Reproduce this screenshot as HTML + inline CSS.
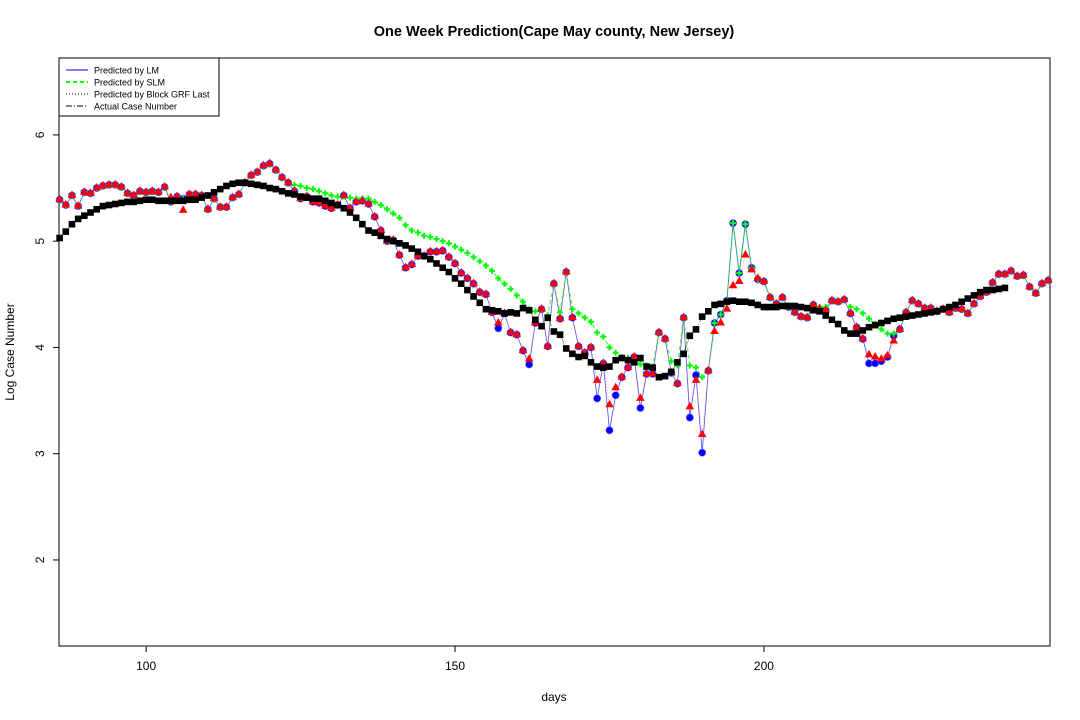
<!DOCTYPE html>
<html><head><meta charset="utf-8"><style>
body{margin:0;background:#fff}
svg{display:block;font-family:"Liberation Sans",sans-serif}
</style></head><body>
<svg id="chart" width="1080" height="720">
<text x="554" y="36" text-anchor="middle" font-size="14.5" font-weight="bold">One Week Prediction(Cape May county, New Jersey)</text>
<text x="554" y="701" text-anchor="middle" font-size="12">days</text>
<text transform="translate(14,352) rotate(-90)" text-anchor="middle" font-size="12">Log Case Number</text>
<g id="axes"></g>
<g id="marks"></g>
<g>
<rect x="59" y="58" width="160" height="58" fill="#fff" stroke="#000" stroke-width="1"/>
<line x1="66" y1="70" x2="88" y2="70" stroke="#00f"/>
<text x="94" y="73.5" font-size="9">Predicted by LM</text>
<line x1="66" y1="82" x2="88" y2="82" stroke="#0f0" stroke-width="2" stroke-dasharray="4,3"/>
<text x="94" y="85.5" font-size="9">Predicted by SLM</text>
<line x1="66" y1="94" x2="88" y2="94" stroke="#000" stroke-dasharray="1,2"/>
<text x="94" y="97.5" font-size="9">Predicted by Block GRF Last</text>
<line x1="66" y1="106" x2="88" y2="106" stroke="#000" stroke-dasharray="6,2,1,2"/>
<text x="94" y="109.5" font-size="9">Actual Case Number</text>
</g>
</svg>
<script>
const startDay = 86;
const actual = [5.03,5.09,5.16,5.21,5.24,5.27,5.30,5.33,5.34,5.35,5.36,5.37,5.37,5.38,5.39,5.39,5.38,5.38,5.38,5.38,5.38,5.39,5.39,5.41,5.43,5.46,5.49,5.52,5.54,5.55,5.55,5.54,5.53,5.52,5.50,5.49,5.47,5.45,5.44,5.42,5.41,5.40,5.40,5.38,5.36,5.34,5.31,5.27,5.22,5.16,5.10,5.08,5.05,5.02,5.00,4.98,4.96,4.93,4.90,4.86,4.83,4.79,4.75,4.71,4.65,4.60,4.54,4.48,4.42,4.36,4.35,4.34,4.32,4.33,4.32,4.37,4.35,4.26,4.20,4.28,4.15,4.12,3.99,3.94,3.91,3.92,3.86,3.82,3.81,3.82,3.88,3.90,3.88,3.86,3.90,3.82,3.81,3.72,3.73,3.77,3.86,3.94,4.11,4.17,4.29,4.34,4.40,4.41,4.43,4.44,4.43,4.43,4.42,4.40,4.38,4.38,4.38,4.39,4.39,4.39,4.38,4.37,4.35,4.34,4.30,4.26,4.22,4.16,4.13,4.13,4.16,4.19,4.21,4.23,4.25,4.27,4.28,4.29,4.30,4.31,4.32,4.33,4.34,4.36,4.38,4.40,4.43,4.46,4.49,4.52,4.54,4.54,4.55,4.56];
const lm = [5.39,5.34,5.43,5.33,5.46,5.45,5.50,5.52,5.53,5.53,5.51,5.45,5.43,5.47,5.46,5.47,5.46,5.51,5.37,5.42,5.40,5.44,5.44,5.43,5.30,5.40,5.32,5.32,5.41,5.44,5.55,5.62,5.65,5.71,5.73,5.67,5.60,5.55,5.47,5.40,5.42,5.37,5.36,5.33,5.31,5.34,5.43,5.31,5.37,5.38,5.35,5.23,5.10,5.00,5.01,4.87,4.75,4.78,4.86,4.86,4.90,4.90,4.91,4.85,4.79,4.70,4.65,4.60,4.52,4.50,4.33,4.18,4.32,4.14,4.12,3.97,3.84,4.23,4.36,4.01,4.60,4.27,4.71,4.28,4.01,3.95,4.00,3.52,3.85,3.22,3.55,3.72,3.81,3.91,3.43,3.75,3.75,4.14,4.08,3.76,3.66,4.28,3.34,3.74,3.01,3.78,4.23,4.31,4.44,5.17,4.70,5.16,4.75,4.64,4.62,4.47,4.41,4.47,4.38,4.33,4.29,4.28,4.40,4.36,4.35,4.44,4.43,4.45,4.32,4.19,4.08,3.85,3.85,3.87,3.91,4.11,4.17,4.33,4.44,4.41,4.37,4.37,4.34,4.36,4.33,4.37,4.36,4.32,4.41,4.48,4.52,4.61,4.69,4.69,4.72,4.67,4.68,4.57,4.51,4.60,4.63];
const grf = lm.slice();
const grfDays = [104,106,157,162,173,175,176,180,188,189,190,192,193,194,195,196,197,198,199,217,218,219,220,221];
const grfVals = [5.41,5.29,4.23,3.89,3.69,3.46,3.62,3.52,3.44,3.69,3.18,4.15,4.23,4.36,4.58,4.62,4.87,4.73,4.65,3.93,3.91,3.89,3.92,4.06];
grfDays.forEach((d,i)=>{grf[d-startDay]=grfVals[i];});
const slm = lm.slice();
const slmDays = [124,125,126,127,128,129,130,131,132,133,134,135,136,137,138,139,140,141,142,143,144,145,146,147,148,149,150,151,152,153,154,155,156,157,158,159,160,161,162,163,165,167,169,170,171,172,173,174,175,176,177,178,179,180,181,182,185,186,188,189,190,191,209,210,214,215,216,217,218,219,220,221];
const slmVals = [5.53,5.52,5.50,5.49,5.47,5.45,5.43,5.42,5.42,5.41,5.40,5.40,5.40,5.37,5.34,5.30,5.26,5.22,5.15,5.10,5.08,5.05,5.04,5.02,5.00,4.98,4.95,4.92,4.89,4.85,4.81,4.77,4.72,4.65,4.60,4.55,4.49,4.43,4.36,4.34,4.30,4.33,4.36,4.32,4.28,4.24,4.14,4.10,4.00,3.95,3.91,3.90,3.90,3.84,3.83,3.82,3.87,3.83,3.83,3.81,3.72,3.78,4.38,4.38,4.38,4.36,4.32,4.27,4.22,4.17,4.13,4.13];
slmDays.forEach((d,i)=>{slm[d-startDay]=slmVals[i];});
const xTicks = [100,150,200];
const yTicks = [2,3,4,5,6];

const L=59,R=1050,T=58,B=646;
const xMin=85.9,xMax=246.3,yMin=1.19,yMax=6.724;
const X=d=>L+(d-xMin)/(xMax-xMin)*(R-L);
const Y=v=>B-(v-yMin)/(yMax-yMin)*(B-T);
const NS="http://www.w3.org/2000/svg";
function mk(tag,attrs,parent){const e=document.createElementNS(NS,tag);for(const k in attrs)e.setAttribute(k,attrs[k]);parent.appendChild(e);return e;}
const axes=document.getElementById('axes'), marks=document.getElementById('marks');
const frame=mk('rect',{x:L,y:T,width:R-L,height:B-T,fill:'none',stroke:'#000'},axes);


xTicks.forEach(t=>{
  mk('line',{x1:X(t),x2:X(t),y1:B,y2:B+6,stroke:'#000'},axes);
  const tx=mk('text',{x:X(t),y:B+24,'text-anchor':'middle','font-size':12},axes);tx.textContent=t;
  
  
});
yTicks.forEach(t=>{
  mk('line',{x1:L-6,x2:L,y1:Y(t),y2:Y(t),stroke:'#000'},axes);
  const tx=mk('text',{transform:`translate(${L-15},${Y(t)}) rotate(-90)`,'text-anchor':'middle','font-size':12},axes);tx.textContent=t;
  
  
});
function path(arr,stroke,dash,w,name){
  const d=arr.map((v,i)=>(i?'L':'M')+X(startDay+i).toFixed(1)+','+Y(v).toFixed(1)).join('');
  const p=mk('path',{d:d,fill:'none',stroke:stroke,'stroke-width':w,'stroke-dasharray':dash,'stroke-opacity':0.7},marks);
  
  
}
path(lm,'#00f','none',0.8,'lm-line');
path(slm,'#0f0','4,3',1.2,'slm-line');
path(grf,'#f66','1,2',0.8,'grf-line');
path(actual,'#000','6,2,1,2',0.6,'actual-line');
lm.forEach((v,i)=>{const c=mk('circle',{cx:X(startDay+i),cy:Y(v),r:3.6,fill:'#00f',stroke:'#66f','stroke-width':0.6},marks);
  
  });
slm.forEach((v,i)=>{const x=X(startDay+i),y=Y(v);
  const p=mk('path',{d:`M${x-3},${y-1}h2v-2h2v2h2v2h-2v2h-2v-2h-2z`,fill:'#0f0'},marks);
  
  });
grf.forEach((v,i)=>{const x=X(startDay+i),y=Y(v);
  const p=mk('path',{d:`M${x},${y-5}L${x+4.3},${y+2.5}L${x-4.3},${y+2.5}Z`,fill:'#f00'},marks);
  
  });
actual.forEach((v,i)=>{const x=X(startDay+i),y=Y(v);
  const r=mk('rect',{x:x-3.3,y:y-3.3,width:6.6,height:6.6,fill:'#000'},marks);
  
  });
</script>
</body></html>
